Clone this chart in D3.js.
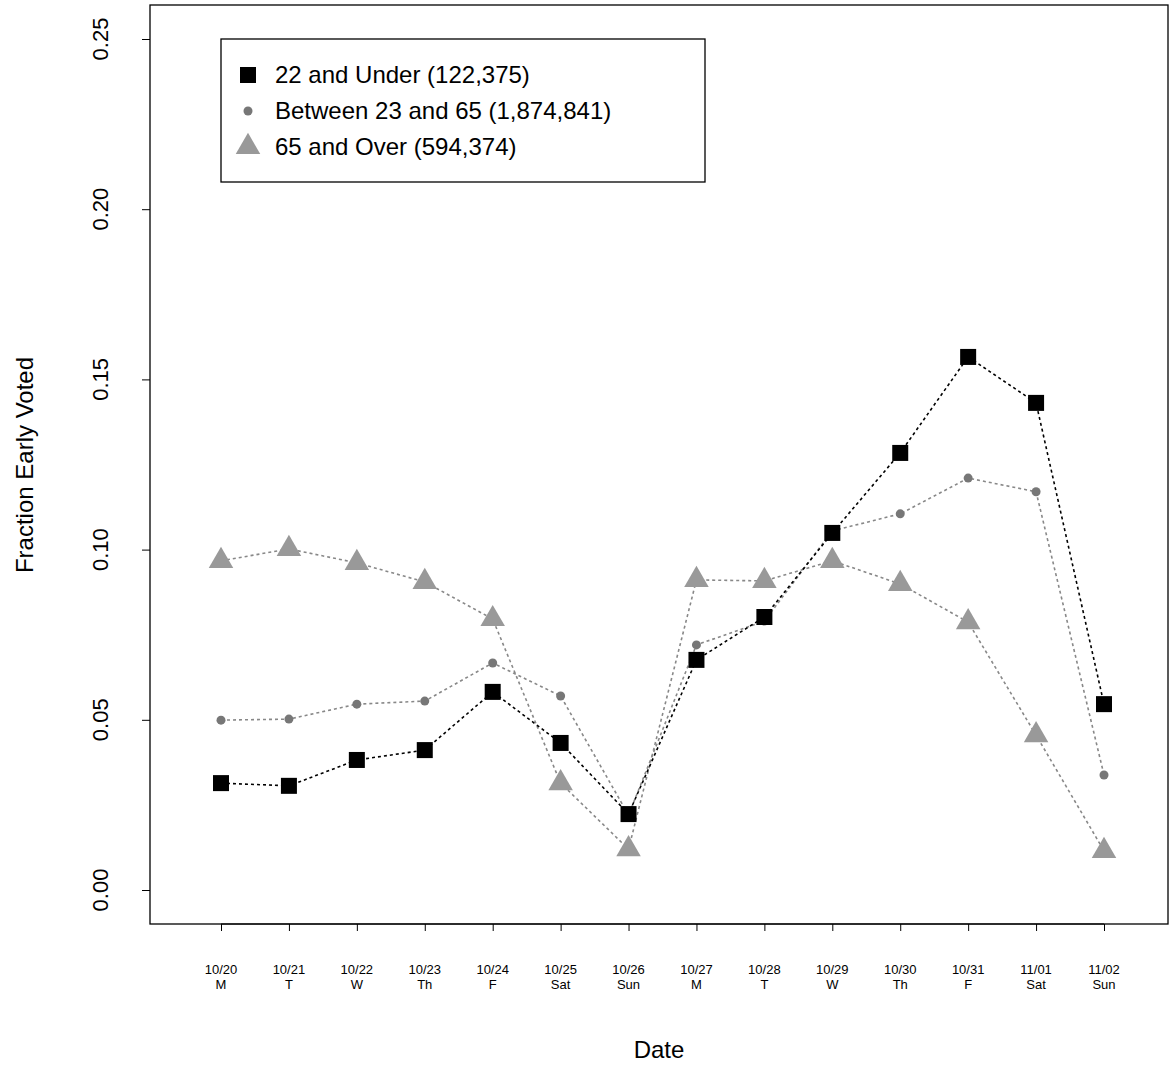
<!DOCTYPE html><html><head><script src="https://cdn.jsdelivr.net/npm/d3@7"></script>
<style>body{margin:0;background:#fff}text{font-family:"Liberation Sans",Arial,sans-serif}</style></head><body>
<svg id="c" width="1169" height="1069"></svg>
<script>
const dates=["10/20","10/21","10/22","10/23","10/24","10/25","10/26","10/27","10/28","10/29","10/30","10/31","11/01","11/02"];
const days=["M","T","W","Th","F","Sat","Sun","M","T","W","Th","F","Sat","Sun"];
const under22=[0.0314,0.0306,0.0382,0.0411,0.0582,0.0432,0.0223,0.0676,0.0802,0.1049,0.1284,0.1566,0.1431,0.0546];
const mid=[0.0499,0.0502,0.0546,0.0555,0.0667,0.0570,0.0220,0.0720,0.0790,0.1055,0.1105,0.1210,0.1170,0.0338];
const over65=[0.0967,0.1002,0.0961,0.0905,0.0796,0.0314,0.0120,0.0911,0.0908,0.0967,0.0899,0.0787,0.0455,0.0115];
const yTicks=[0,0.05,0.10,0.15,0.20,0.25];
const legendLabels=["22 and Under (122,375)","Between 23 and 65 (1,874,841)","65 and Over (594,374)"];
const svg=d3.select("#c");
const x=d3.scalePoint().domain(dates).range([221,1104]);
const y=d3.scaleLinear().domain([0,0.25]).range([890,39]);
svg.append("rect").attr("x",150).attr("y",5).attr("width",1018).attr("height",919).attr("fill","none").attr("stroke","#000").attr("stroke-width",1.3);
const ya=svg.append("g").attr("transform","translate(150,0)").call(d3.axisLeft(y).tickValues(yTicks).tickFormat("").tickSize(8).tickSizeOuter(0));
ya.select(".domain").remove();
ya.selectAll("line").attr("stroke","#000");
yTicks.forEach(t=>svg.append("text").attr("transform",`translate(108,${y(t)}) rotate(-90)`).attr("text-anchor","middle").attr("font-size",22).text(d3.format(".2f")(t)));
const xa=svg.append("g").attr("transform","translate(0,924)").call(d3.axisBottom(x).tickSize(7).tickFormat(""));
xa.select(".domain").attr("d","M221,0H1104");
dates.forEach((d,i)=>{svg.append("text").attr("x",x(d)).attr("y",974).attr("text-anchor","middle").attr("font-size",13).text(d);
svg.append("text").attr("x",x(d)).attr("y",989).attr("text-anchor","middle").attr("font-size",13).text(days[i]);});
svg.append("text").attr("x",659).attr("y",1058).attr("text-anchor","middle").attr("font-size",24).text("Date");
svg.append("text").attr("transform","translate(33,465) rotate(-90)").attr("text-anchor","middle").attr("font-size",24).text("Fraction Early Voted");
const line=d3.line().x((d,i)=>x(dates[i])).y(d=>y(d));
const series=[[over65,"#999999","tri"],[mid,"#777777","dot"],[under22,"#000000","sq"]];
series.forEach(([v,c,s])=>{
svg.append("path").attr("d",line(v)).attr("fill","none").attr("stroke",s=="sq"?"#000":"#888").attr("stroke-width",1.6).attr("stroke-dasharray","3,3");
v.forEach((d,i)=>{const cx=x(dates[i]),cy=y(d);
if(s=="sq")svg.append("rect").attr("x",cx-8).attr("y",cy-8).attr("width",16).attr("height",16).attr("fill",c);
else if(s=="dot")svg.append("circle").attr("cx",cx).attr("cy",cy).attr("r",4.5).attr("fill",c);
else svg.append("path").attr("d",d3.symbol(d3.symbolTriangle,260)()).attr("transform",`translate(${cx},${cy})`).attr("fill",c);});});
svg.append("rect").attr("x",221).attr("y",39).attr("width",484).attr("height",143).attr("fill","#fff").attr("stroke","#000").attr("stroke-width",1.3);
const ly=[75,111,147];
svg.append("rect").attr("x",240).attr("y",ly[0]-8).attr("width",16).attr("height",16).attr("fill","#000");
svg.append("circle").attr("cx",248).attr("cy",ly[1]).attr("r",4.5).attr("fill","#777");
svg.append("path").attr("d",d3.symbol(d3.symbolTriangle,260)()).attr("transform",`translate(248,${ly[2]})`).attr("fill","#999");
legendLabels.forEach((t,i)=>svg.append("text").attr("x",275).attr("y",ly[i]+8).attr("font-size",24).text(t));
</script></body></html>
